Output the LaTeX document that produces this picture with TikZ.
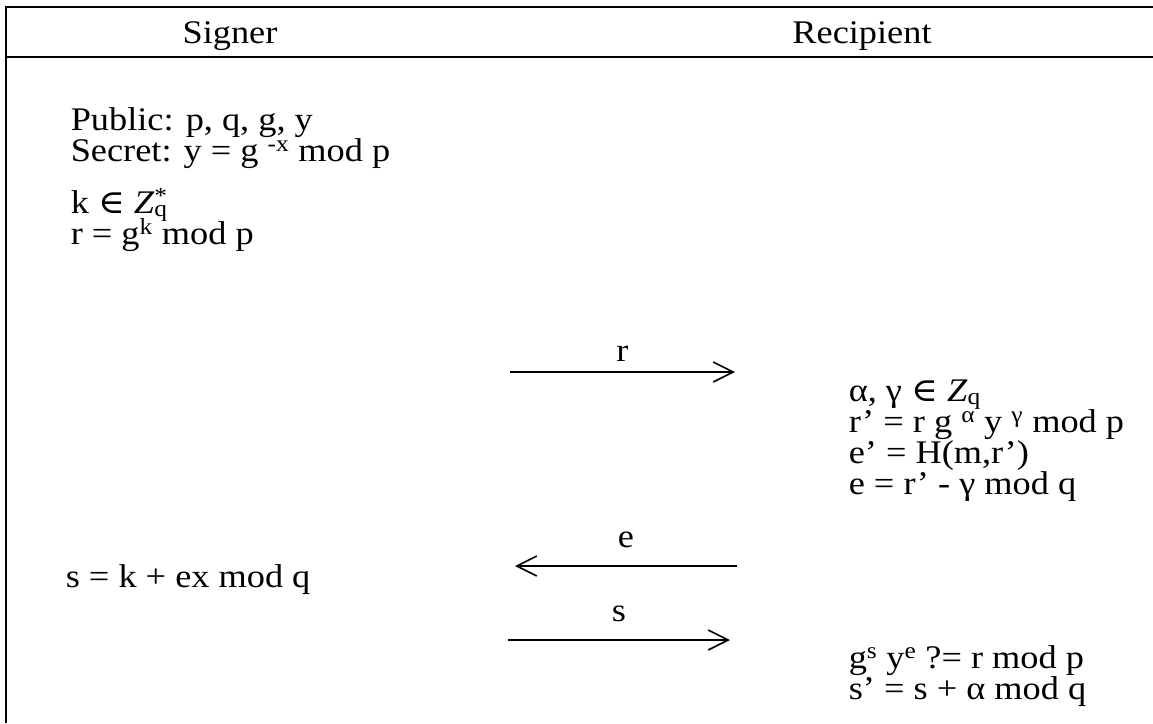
\documentclass[tikz,border=0pt]{standalone}
\usepackage{fontspec}
\setmainfont{Liberation Serif}[FakeStretch=1.1]
\newfontfamily\symfnt{DejaVu Serif}[FakeStretch=1.1]
\usetikzlibrary{arrows.meta}
\newcommand{\bodyfont}{\fontsize{33}{31}\selectfont\lineskiplimit=-100pt}
\newcommand{\elem}{{\symfnt ∈}}
\begin{document}
\begin{tikzpicture}[x=1pt, y=-1pt, line width=1.6pt,
  txt/.style={inner sep=0pt, anchor=base west, align=left, font=\bodyfont},
  head/.style={inner sep=0pt, anchor=base, font=\bodyfont},
  lbl/.style={inner sep=0pt, font=\bodyfont},
  msg/.style={-{Straight Barb[length=20pt, width=20pt, line width=1.6pt]}}]
\useasboundingbox (0,0) rectangle (1153,723);
% frame of the table
\draw (1153,7) -- (6,7) -- (6,723);
\draw (6,57) -- (1153,57);
\node[head] (signer) at (230,43) {Signer};
\node[head] (recipient) at (862,43) {Recipient};
% signer side
\node[txt] (keys) at (70,161) {Public: p, q, g, y\\Secret: y = g \textsuperscript{-x} mod p};
\node[txt] (commit) at (70,244) {k \elem\ \textit{Z}\rlap{\textsuperscript{*}}\textsubscript{q}\\r = g\textsuperscript{k} mod p};
\node[txt] (answer) at (65,587) {s = k + ex mod q};
% recipient side
\node[txt] (blind) at (848,494) {α, γ \elem\ \textit{Z}\textsubscript{q}\\r’ = r g \textsuperscript{α} y \textsuperscript{γ} mod p\\e’ = H(m,r’)\\e = r’ -  γ mod q};
\node[txt] (verify) at (848,699) {g\textsuperscript{s} y\textsuperscript{e} ?= r mod p\\s’ = s + α mod q};
% messages
\coordinate (r1) at (510,372);
\coordinate (r2) at (735,372);
\coordinate (e1) at (737,566);
\coordinate (e2) at (515,566);
\coordinate (s1) at (508,640);
\coordinate (s2) at (730,640);
\draw[msg] (r1) -- node[lbl, above=10pt] (rlabel) {r} (r2);
\draw[msg] (e1) -- node[lbl, above=17pt] (elabel) {e} (e2);
\draw[msg] (s1) -- node[lbl, above=17pt] (slabel) {s} (s2);
\end{tikzpicture}
\end{document}
